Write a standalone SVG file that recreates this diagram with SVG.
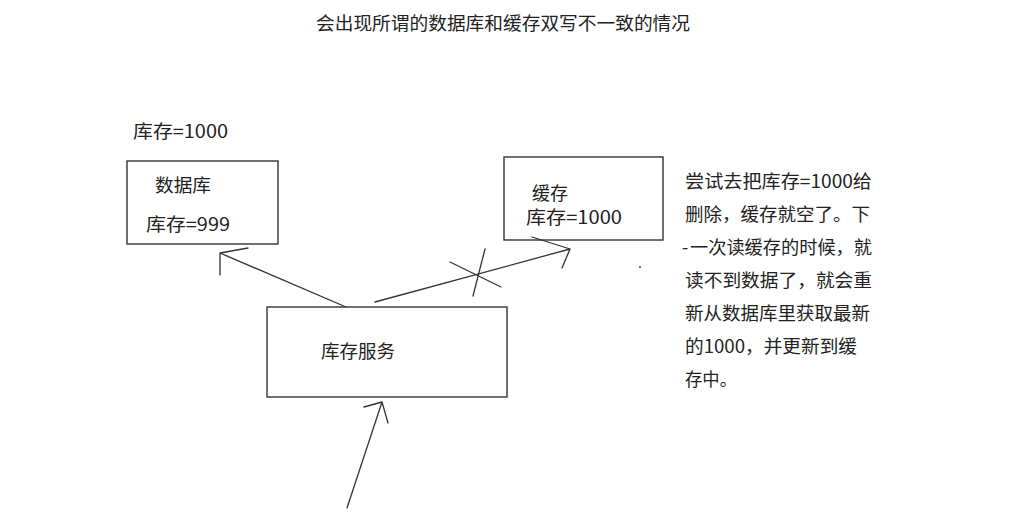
<svg xmlns="http://www.w3.org/2000/svg" width="1034" height="517" viewBox="0 0 1034 517">
<style>
text{font-family:"Noto Sans CJK SC","Liberation Sans",sans-serif;font-size:18px;fill:#222}
.box{fill:#fff;stroke:#333;stroke-width:1.4}
.ln{fill:none;stroke:#333;stroke-width:1.3;stroke-linecap:round;stroke-linejoin:round}
</style>
<rect width="1034" height="517" fill="#fff"/>
<text x="503" y="30" text-anchor="middle" textLength="374" lengthAdjust="spacingAndGlyphs">会出现所谓的数据库和缓存双写不一致的情况</text>
<text x="133" y="138" textLength="95" lengthAdjust="spacingAndGlyphs">库存=1000</text>
<g id="db">
<rect class="box" x="127" y="161" width="151" height="83"/>
<text x="155" y="192" textLength="56" lengthAdjust="spacingAndGlyphs">数据库</text>
<text x="146" y="231" textLength="84" lengthAdjust="spacingAndGlyphs">库存=999</text>
</g>
<g id="cache">
<rect class="box" x="504" y="157" width="159" height="83"/>
<text x="532" y="200" textLength="36" lengthAdjust="spacingAndGlyphs">缓存</text>
<text x="526" y="224" textLength="96" lengthAdjust="spacingAndGlyphs">库存=1000</text>
</g>
<g id="service">
<rect class="box" x="267" y="307" width="240" height="90"/>
<text x="321" y="358" textLength="74" lengthAdjust="spacingAndGlyphs">库存服务</text>
</g>
<g id="note">
<text x="685" y="188" textLength="187" lengthAdjust="spacingAndGlyphs">尝试去把库存=1000给</text>
<text x="685" y="221" textLength="185" lengthAdjust="spacingAndGlyphs">删除，缓存就空了。下</text>
<text x="682" y="254" font-size="10">-</text>
<text x="690" y="254" textLength="182" lengthAdjust="spacingAndGlyphs">一次读缓存的时候，就</text>
<text x="685" y="287" textLength="187" lengthAdjust="spacingAndGlyphs">读不到数据了，就会重</text>
<text x="685" y="320" textLength="185" lengthAdjust="spacingAndGlyphs">新从数据库里获取最新</text>
<text x="685" y="353" textLength="172" lengthAdjust="spacingAndGlyphs">的1000，并更新到缓</text>
<text x="685" y="386" textLength="52" lengthAdjust="spacingAndGlyphs">存中。</text>
</g>
<g id="connectors">
<path class="ln" d="M346 307 L220 253 M248 248 L220 253 L220 275"/>
<path class="ln" d="M375 302 L570 249 M532 237 L570 249 L562 268"/>
<path class="ln" d="M485 249 L473 296 M450 262 L501 287"/>
<path class="ln" d="M347 508 L382 402 M364 407 L382 402 L388 423"/>
<circle cx="640" cy="267" r="0.9" fill="#333"/>
</g>
</svg>
